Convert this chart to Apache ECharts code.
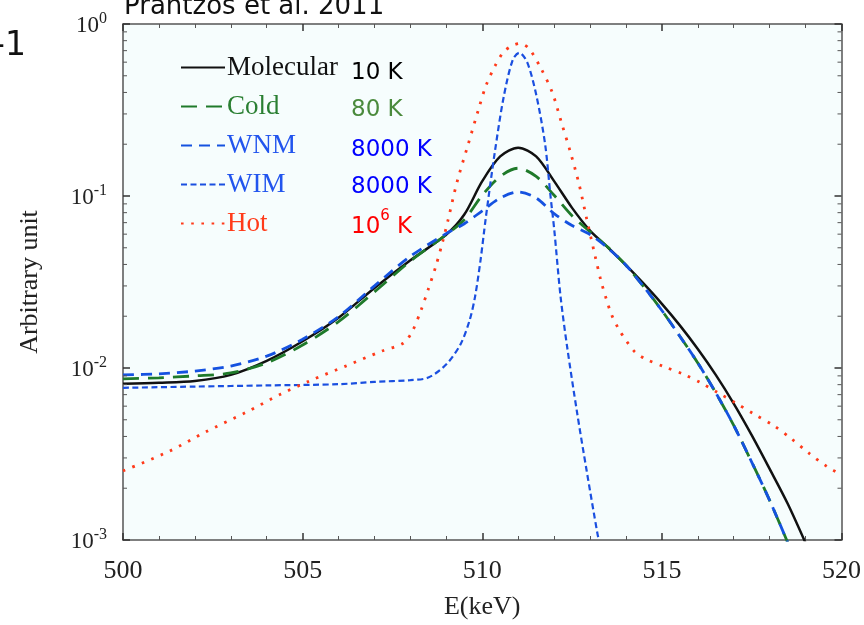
<!DOCTYPE html>
<html><head><meta charset="utf-8">
<script src="https://cdn.jsdelivr.net/npm/echarts@6/dist/echarts.min.js"></script>
<style>html,body{margin:0;padding:0;background:#fff}#c{width:864px;height:625px}</style>
</head><body><div id="c"></div>
<script>
// ---- data (E in keV, value in arbitrary units) ----
const seriesNames = ['Molecular', 'Cold', 'WNM', 'WIM', 'Hot'];
const tempLabels = ['10 K', '80 K', '8000 K', '8000 K', '10^6 K'];
const xTicks = [500, 505, 510, 515, 520];
const yDecades = [0.001, 0.01, 0.1, 1];
const yMinorTicks = [0.002,0.003,0.004,0.005,0.006,0.007,0.008,0.009,
                     0.02,0.03,0.04,0.05,0.06,0.07,0.08,0.09,
                     0.2,0.3,0.4,0.5,0.6,0.7,0.8,0.9];

const molecular = [[500,0.00809],[501,0.0082],[502,0.0084],[503,0.00912],[504,0.011],[505,0.0143],
  [506,0.0196],[507,0.0292],[508,0.0423],[509,0.0597],[509.5,0.078],[510,0.122],[510.5,0.17],
  [511,0.191],[511.5,0.17],[512,0.122],[512.5,0.0853],[513,0.0629],[513.5,0.0502],[514,0.0396],
  [514.5,0.0308],[515,0.0236],[515.5,0.0177],[516,0.0129],[516.5,0.00912],[517,0.00621],
  [517.5,0.00407],[518,0.00259],[518.5,0.00163],[519,0.00096]];

const cold = [[500,0.00865],[501,0.00877],[502,0.009],[503,0.00936],[504,0.0107],[505,0.0136],
  [506,0.0186],[507,0.0277],[508,0.0418],[509,0.0597],[509.5,0.0728],[510,0.101],[510.5,0.13],
  [511,0.145],[511.5,0.13],[512,0.101],[512.5,0.0767],[513,0.062],[513.5,0.0503],[514,0.0396],
  [514.5,0.0296],[515,0.0216],[515.5,0.0153],[516,0.0107],[516.5,0.00718],[517,0.00464],
  [517.5,0.00284],[518,0.0017],[518.5,0.00097]];

const wnm = [[500,0.00912],[501,0.00924],[502,0.0096],[503,0.01026],[504,0.01172],[505,0.0147],
  [506,0.0199],[507,0.030],[508,0.0446],[509,0.0605],[509.5,0.069],[510,0.082],[510.5,0.0974],
  [511,0.1054],[511.5,0.0974],[512,0.079],[512.5,0.0673],[513,0.0597],[513.5,0.0497],[514,0.0396],
  [514.5,0.0296],[515,0.0216],[515.5,0.0153],[516,0.0107],[516.5,0.00718],[517,0.00464],
  [517.5,0.00284],[518,0.0017],[518.5,0.00097]];

const wim = [[500,0.00767],[502,0.0078],[504,0.00792],[506,0.00805],[507,0.0083],[508,0.0085],
  [508.5,0.0088],[509,0.0105],[509.4,0.0138],[509.65,0.019],[509.8,0.026],[509.95,0.042],
  [510.1,0.075],[510.35,0.18],[510.6,0.38],[510.85,0.62],[511.03,0.68],[511.25,0.6],[511.5,0.39],
  [511.75,0.2],[511.9,0.1],[512.0,0.065],[512.18,0.026],[512.36,0.0134],[512.64,0.0055],
  [512.91,0.0025],[513.21,0.00108],[513.25,0.001]];

const hot = [[500,0.00252],[501.3,0.00329],[502.3,0.00425],[503.4,0.00549],[504.4,0.00706],
  [505.2,0.00842],[506.2,0.01026],[507.2,0.01253],[507.8,0.01393],[508.05,0.0163],[508.3,0.0218],
  [508.5,0.0288],[508.7,0.0386],[508.9,0.0544],[509.05,0.0728],[509.3,0.121],[509.6,0.197],
  [509.9,0.321],[510.1,0.436],[510.35,0.568],[510.6,0.69],[510.85,0.75],[511.05,0.77],
  [511.3,0.72],[511.65,0.544],[511.95,0.4],[512.2,0.269],[512.45,0.181],[512.7,0.116],
  [512.9,0.0748],[513.15,0.044],[513.3,0.0324],[513.45,0.0253],[513.6,0.0204],[513.8,0.0168],
  [514.0,0.0145],[514.25,0.0124],[514.55,0.01127],[515.05,0.0102],[515.6,0.0092],[516.1,0.00817],
  [516.55,0.00721],[517.05,0.00627],[517.55,0.00542],[518.1,0.00464],[518.6,0.00389],
  [519.1,0.00319],[519.6,0.00267],[520,0.00239]];

// ---- styles ----
const colors = ['#111111', '#1f7a2a', '#1552e0', '#1a4fe0', '#ff3a1a'];
const legendTextColors = ['#111111', '#2a7f32', '#2255ee', '#2255ee', '#ff3b1a'];
const tempColors = ['#000000', '#4a8a3c', '#0000ff', '#0000ff', '#ff0000'];
const lineTypes = ['solid', [16, 9], [11, 7], [6, 3.5], [2.6, 7.6]];
const lineWidths = [2.5, 2.8, 2.8, 2.2, 2.8];
const dataSets = [molecular, cold, wnm, wim, hot];
const serif = '"Liberation Serif", "Times New Roman", serif';
const sans = '"DejaVu Sans", Verdana, sans-serif';

const chart = echarts.init(document.getElementById('c'), null, {renderer: 'canvas'});

const lineSeries = seriesNames.map((n, i) => ({
  name: n, type: 'line', data: dataSets[i], symbol: 'none', smooth: 0.3,
  xAxisIndex: 0, yAxisIndex: 0, clip: true,
  lineStyle: {color: colors[i], width: lineWidths[i], type: lineTypes[i], cap: 'butt'},
  itemStyle: {color: colors[i]}, z: 3
}));

const tickSeries = {
  type: 'custom', xAxisIndex: 0, yAxisIndex: 0, silent: true, clip: false, z: 5,
  data: yMinorTicks.map(v => [xTicks[0], v]),
  renderItem: function (params, api) {
    const v = api.value(1);
    const l = api.coord([xTicks[0], v]);
    const r = api.coord([xTicks[xTicks.length - 1], v]);
    return {type: 'group', children: [
      {type: 'line', shape: {x1: l[0], y1: l[1], x2: l[0] + 4, y2: l[1]}, style: {stroke: '#555', lineWidth: 1}},
      {type: 'line', shape: {x1: r[0], y1: r[1], x2: r[0] - 4, y2: r[1]}, style: {stroke: '#555', lineWidth: 1}}
    ]};
  }
};

const axisLineStyle = {show: true, lineStyle: {color: '#555', width: 1.5}};

const tempY = [77, 114, 153.5, 191, 224];
const tempGraphics = tempLabels.map((t, i) => {
  let txt;
  if (t.indexOf('^') >= 0) {
    const parts = t.split('^');
    const rest = parts[1].split(' ');
    txt = '{a|' + parts[0] + '}{s|' + rest[0] + '}{a| ' + rest.slice(1).join(' ') + '}';
  } else {
    txt = '{a|' + t + '}';
  }
  return {
    type: 'text', left: 351, top: tempY[i] - 15, z: 10,
    style: {
      text: txt, fill: tempColors[i], font: '23px ' + sans,
      rich: {
        a: {fontFamily: sans, fontSize: 23, lineHeight: 30, verticalAlign: 'bottom', fill: tempColors[i], color: tempColors[i]},
        s: {fontFamily: sans, fontSize: 15, lineHeight: 30, verticalAlign: 'top', fill: tempColors[i], color: tempColors[i]}
      }
    }
  };
});

chart.setOption({
  animation: false,
  backgroundColor: '#ffffff',
  grid: {left: 123, right: 18, top: 24, bottom: 79, show: true, backgroundColor: '#f6fdfd', borderWidth: 0},
  legend: {
    orient: 'vertical', left: 175, top: 49, itemWidth: 44, itemHeight: 14, itemGap: 12,
    data: seriesNames.map((n, i) => ({name: n, textStyle: {color: legendTextColors[i]}})),
    itemStyle: {opacity: 0, borderWidth: 0},
    textStyle: {fontFamily: serif, fontSize: 27, lineHeight: 27, padding: [0, 0, 0, -3]},
    selectedMode: false
  },
  xAxis: [
    {type: 'value', min: xTicks[0], max: xTicks[xTicks.length - 1], interval: 5, position: 'bottom',
     name: 'E(keV)', nameLocation: 'middle', nameGap: 54,
     nameTextStyle: {fontFamily: serif, fontSize: 26, color: '#222'},
     axisLine: axisLineStyle,
     axisTick: {show: true, inside: true, length: 7, lineStyle: {color: '#333', width: 1.5}},
     minorTick: {show: true, splitNumber: 5, length: 4, lineStyle: {color: '#555', width: 1}},
     splitLine: {show: false},
     axisLabel: {margin: 18, fontFamily: serif, fontSize: 26, color: '#222'}},
    {type: 'value', min: xTicks[0], max: xTicks[xTicks.length - 1], interval: 5, position: 'top',
     axisLine: axisLineStyle,
     axisTick: {show: true, inside: true, length: 7, lineStyle: {color: '#333', width: 1.5}},
     minorTick: {show: true, splitNumber: 5, length: 4, lineStyle: {color: '#555', width: 1}},
     splitLine: {show: false}, axisLabel: {show: false}}
  ],
  yAxis: [
    {type: 'log', logBase: 10, min: yDecades[0], max: yDecades[yDecades.length - 1], position: 'left',
     name: 'Arbitrary unit', nameLocation: 'middle', nameGap: 80,
     nameTextStyle: {fontFamily: serif, fontSize: 26, color: '#222'},
     axisLine: axisLineStyle,
     axisTick: {show: true, inside: true, length: 7, lineStyle: {color: '#333', width: 1.5}},
     splitLine: {show: false},
     axisLabel: {
       margin: 16, color: '#222',
       formatter: function (v) { return '{b|10}{s|' + Math.round(Math.log10(v)) + '}'; },
       rich: {
         b: {fontFamily: serif, fontSize: 23, lineHeight: 26, verticalAlign: 'bottom', color: '#222'},
         s: {fontFamily: serif, fontSize: 16, lineHeight: 16, verticalAlign: 'top', color: '#222'}
       }
     }},
    {type: 'log', logBase: 10, min: yDecades[0], max: yDecades[yDecades.length - 1], position: 'right',
     axisLine: axisLineStyle,
     axisTick: {show: true, inside: true, length: 7, lineStyle: {color: '#333', width: 1.5}},
     splitLine: {show: false}, axisLabel: {show: false}}
  ],
  graphic: [
    {type: 'text', left: 124, top: -6, z: 10,
     style: {text: 'Prantzos et al. 2011', font: '26px ' + sans, fill: '#111'}},
    {type: 'text', right: 838, top: 30, z: 10,
     style: {text: '-1', font: '33px ' + sans, fill: '#111'}}
  ].concat(tempGraphics),
  series: lineSeries.concat([tickSeries])
});
</script>
</body></html>
